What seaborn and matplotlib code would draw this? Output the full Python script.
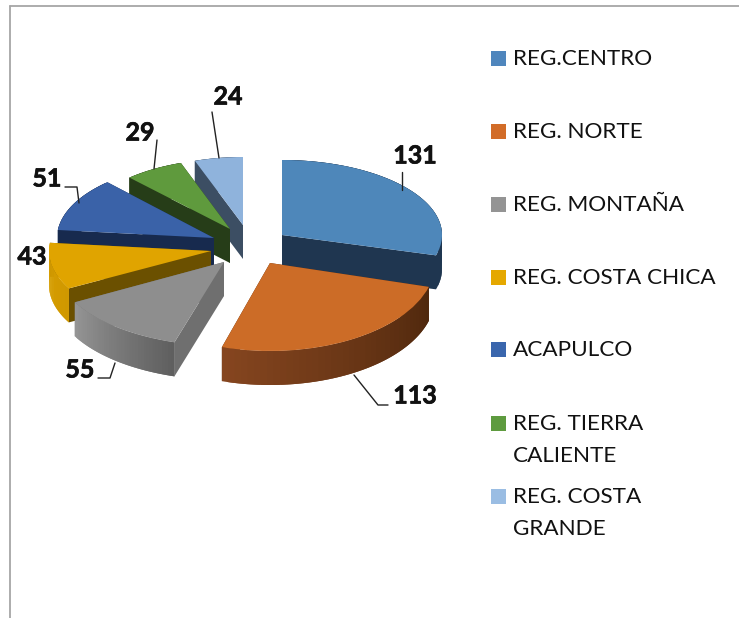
import numpy as np
import matplotlib
matplotlib.use('Agg')
import matplotlib.pyplot as plt
import matplotlib.patheffects as pe
from matplotlib.patches import Polygon, Rectangle
from matplotlib.transforms import Affine2D
import seaborn as sns

# Chart data
regions = ['REG.CENTRO', 'REG. NORTE', 'REG. MONTAÑA', 'REG. COSTA CHICA',
           'ACAPULCO', 'REG. TIERRA\nCALIENTE', 'REG. COSTA\nGRANDE']
values = [131, 113, 55, 43, 51, 29, 24]

# Colours
top_colors = ['#4e87ba', '#cc6c27', '#8e8e8e', '#e0a400', '#3a62a8', '#5f9a3d', '#8fb3dc']
legend_colors = ['#4f86bd', '#d26c28', '#949494', '#e5a800', '#3a66ad', '#5e9b3f', '#9abde3']
face_colors = ['#1f3650', '#552b10', '#6f6f6f', '#6b5000', '#172a4e', '#263d18', '#3c4e63']
rim_low = ['#1f3650', '#85451f', '#959595', '#d9a000', '#172a4e', '#263d18', '#3c4e63']
rim_high = ['#1f3650', '#4f280d', '#5f5f5f', '#d09800', '#172a4e', '#263d18', '#3c4e63']

# Layout of each exploded slice, in pixels
apex = [(282, 235), (270, 263), (224, 262), (211, 251), (214, 238), (230, 229), (243, 225)]
radii = [(160, 75), (165, 88), (170, 84), (162, 78), (157, 76), (148, 70), (145, 68)]
depth = 34
draw_order = [6, 5, 4, 3, 2, 0, 1]

label_pos = [(415, 156), (415, 396), (80, 370), (32, 257), (47, 179), (140, 133), (228, 97)]
leaders = [[(402, 172), (402, 190)],
           [(354, 375), (378, 405), (388, 405)],
           [(98, 378), (110, 378), (115, 363)],
           [(65, 187), (77, 187), (79, 203)],
           [(157, 140), (154, 169)],
           [(212, 112), (219, 158)]]
legend_y = [58, 131, 204, 277, 349, 423, 496]

sns.set_theme(style='white')
plt.rcParams['font.family'] = ['Lato', 'DejaVu Sans']

fig = plt.figure(figsize=(7.39, 6.18), dpi=100)
ax = fig.add_axes([0, 0, 1, 1])

wedges, _ = ax.pie(values, startangle=90, counterclock=False, colors=top_colors)
ax.set_aspect('auto')
ax.set_xlim(0, 739)
ax.set_ylim(618, 0)
ax.axis('off')

for z, i in enumerate(draw_order):
    w = wedges[i]
    ax_, ay_ = apex[i]
    rx, ry = radii[i]
    t1, t2 = np.radians(w.theta1), np.radians(w.theta2)

    # Side faces along both cut edges
    for t in (t1, t2):
        px, py = ax_ + rx * np.cos(t), ay_ - ry * np.sin(t)
        ax.add_patch(Polygon([(ax_, ay_), (px, py), (px, py + depth), (ax_, ay_ + depth)],
                             facecolor=face_colors[i], edgecolor='none', zorder=z * 3 + 1))

    # Curved rim with a gradient, each strip reaches under the next one
    n = 40
    ts = np.linspace(t1, t2, n + 1)
    shades = sns.blend_palette([rim_low[i], rim_high[i]], n)
    for k in range(n):
        arc = np.linspace(ts[k], ts[min(k + 2, n)], 5)
        upper = [(ax_ + rx * np.cos(t), ay_ - ry * np.sin(t)) for t in arc]
        lower = [(x, y + depth) for x, y in upper[::-1]]
        ax.add_patch(Polygon(upper + lower, facecolor=shades[k], edgecolor='none',
                             zorder=z * 3 + 2))

    # Top of the slice
    w.set_transform(Affine2D().scale(rx, -ry).translate(ax_, ay_) + ax.transData)
    w.set_linewidth(0)
    w.set_zorder(z * 3 + 3)
    w.set_clip_on(False)

# Data labels and leader lines
for (x, y), v in zip(label_pos, values):
    ax.text(x, y, str(v), ha='center', va='center', fontsize=18, fontweight='bold',
            color='#111111', zorder=50,
            path_effects=[pe.withStroke(linewidth=0.5, foreground='#111111')])
for pts in leaders:
    xs, ys = zip(*pts)
    ax.plot(xs, ys, color='#222222', lw=1, zorder=40)

# Legend
for name, c, y in zip(regions, legend_colors, legend_y):
    ax.add_patch(Rectangle((491, y - 7.5), 15, 15, facecolor=c, edgecolor='none', zorder=50))
    ax.text(513, y - 9, name, ha='left', va='top', fontsize=16.2, color='#111111',
            linespacing=1.78, zorder=50)

# Chart border, only top and left are in frame
ax.plot([10, 739], [6, 6], color='#a6a6a6', lw=1.3, zorder=60)
ax.plot([10, 10], [6, 618], color='#a6a6a6', lw=1.3, zorder=60)

fig.savefig('out.png', dpi=100)
